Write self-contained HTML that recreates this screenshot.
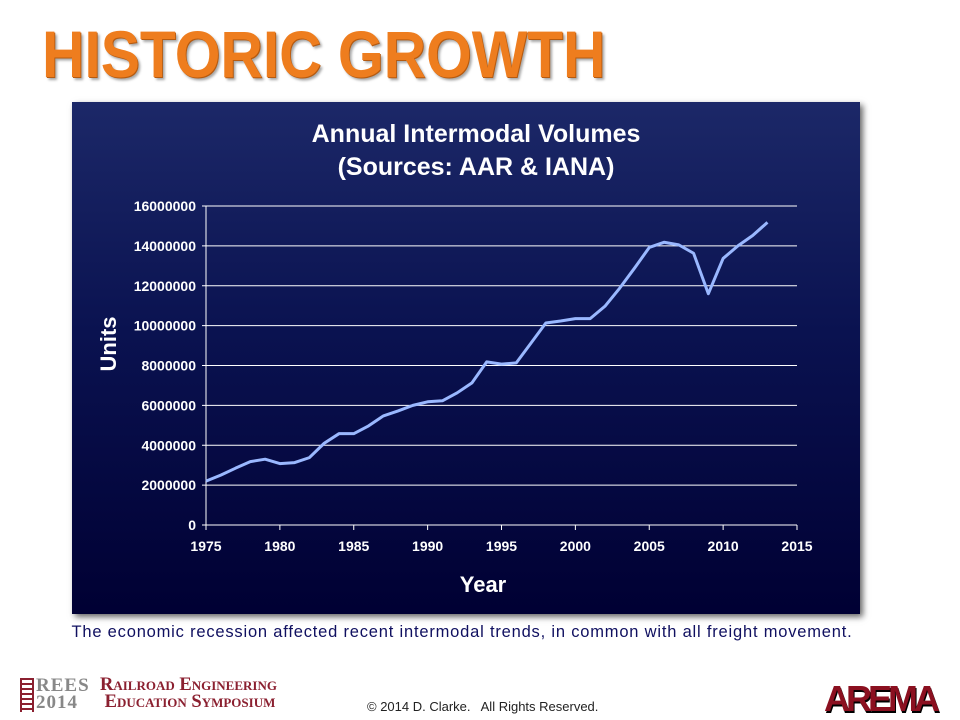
<!DOCTYPE html>
<html><head><meta charset="utf-8"><style>
body{margin:0;width:960px;height:720px;background:#fff;overflow:hidden;position:relative;font-family:"Liberation Sans",Arial,sans-serif}
.title{position:absolute;left:42px;top:19px;font-size:66px;line-height:70px;font-weight:bold;color:#ee7d1e;transform:scaleX(0.89);transform-origin:left;white-space:nowrap;text-shadow:1px 1px 0 #b55a10,3px 3px 3px rgba(0,0,0,.35)}
.panel{position:absolute;left:72px;top:102px;width:788px;height:512px;background:linear-gradient(#1c2868,#0a1250 45%,#000033);box-shadow:3px 3px 6px rgba(0,0,0,.6)}
.caption{position:absolute;left:0;width:924px;top:623px;text-align:center;font-size:16.5px;letter-spacing:0.8px;color:#101060;white-space:nowrap}
.copy{position:absolute;left:367px;top:699px;font-size:13px;color:#222}
</style></head><body>
<div class="title">HISTORIC GROWTH</div>
<div class="panel"></div>
<svg id="chart" width="960" height="720" style="position:absolute;left:0;top:0"></svg>
<div class="caption">The economic recession affected recent intermodal trends, in common with all freight movement.</div>
<div style="position:absolute;left:20px;top:678px;width:290px;height:34px">
<div style="position:absolute;left:0;top:0;width:14px;height:34px;background:repeating-linear-gradient(#8b2030 0 2px,transparent 2px 5px);border-left:2px solid #8b2030;border-right:2px solid #8b2030;box-sizing:border-box"></div>
<div style="position:absolute;left:16px;top:-1px;font:bold 19px 'Liberation Serif',serif;color:#888;line-height:17px;letter-spacing:1px">REES<br>2014</div>
<div style="position:absolute;left:80px;top:-1px;font:bold 18.5px 'Liberation Serif',serif;color:#8b2030;line-height:17px;font-variant:small-caps;white-space:nowrap">Railroad Engineering<br>&nbsp;Education Symposium</div>
</div>
<div class="copy">© 2014 D. Clarke. &nbsp; All Rights Reserved.</div>
<div style="position:absolute;left:824px;top:678px;font:bold 36px 'Liberation Sans',sans-serif;color:#8b1020;letter-spacing:-4px;text-shadow:1px 2px 0 #000">AREMA</div>
<script>
const years=[1975,1976,1977,1978,1979,1980,1981,1982,1983,1984,1985,1986,1987,1988,1989,1990,1991,1992,1993,1994,1995,1996,1997,1998,1999,2000,2001,2002,2003,2004,2005,2006,2007,2008,2009,2010,2011,2012,2013];
const volumes=[2200000,2500000,2850000,3180000,3300000,3080000,3130000,3380000,4100000,4580000,4580000,4970000,5470000,5720000,6000000,6180000,6230000,6630000,7130000,8180000,8070000,8130000,9130000,10130000,10230000,10350000,10350000,10970000,11880000,12880000,13920000,14180000,14050000,13630000,11600000,13370000,14000000,14520000,15180000];
const yTicks=[0,2000000,4000000,6000000,8000000,10000000,12000000,14000000,16000000];
const xTicks=[1975,1980,1985,1990,1995,2000,2005,2010,2015];
const svg=document.getElementById('chart');const NS='http://www.w3.org/2000/svg';
const X0=206,X1=797,Y0=525,Y1=206;
const xs=v=>X0+(v-1975)/(2015-1975)*(X1-X0);
const ys=v=>Y0-v/16000000*(Y0-Y1);
function el(t,a,txt){const e=document.createElementNS(NS,t);for(const k in a)e.setAttribute(k,a[k]);if(txt!=null)e.textContent=txt;svg.appendChild(e);return e;}
let t=el('text',{x:476,y:142,'text-anchor':'middle','font-size':25,'font-weight':'bold',fill:'#fff','font-family':'Liberation Sans'},'Annual Intermodal Volumes');

t=el('text',{x:476,y:175,'text-anchor':'middle','font-size':25,'font-weight':'bold',fill:'#fff','font-family':'Liberation Sans'},'(Sources: AAR & IANA)');

yTicks.forEach(v=>{const y=ys(v);
 const g=el('line',{x1:X0-4,x2:X1,y1:y,y2:y,stroke:'#fff','stroke-width':1});
 
 const l=el('text',{x:196,y:y+5,'text-anchor':'end','font-size':14,'font-weight':'bold',fill:'#fff','font-family':'Liberation Sans'},String(v));
 });
el('line',{x1:X0,x2:X0,y1:Y1,y2:Y0,stroke:'#fff','stroke-width':1});
xTicks.forEach(v=>{const x=xs(v);
 el('line',{x1:x,x2:x,y1:Y0,y2:Y0+5,stroke:'#fff','stroke-width':1});
 const l=el('text',{x:x,y:551,'text-anchor':'middle','font-size':14,'font-weight':'bold',fill:'#fff','font-family':'Liberation Sans'},String(v));
 });
const p=el('polyline',{points:years.map((y,i)=>xs(y)+','+ys(volumes[i])).join(' '),fill:'none',stroke:'#9ab8ff','stroke-width':3,'stroke-linejoin':'round'});

t=el('text',{x:483,y:592,'text-anchor':'middle','font-size':22,'font-weight':'bold',fill:'#fff','font-family':'Liberation Sans'},'Year');

t=el('text',{x:116,y:344,'text-anchor':'middle','font-size':22,'font-weight':'bold',fill:'#fff','font-family':'Liberation Sans',transform:'rotate(-90 116 344)'},'Units');

</script>
</body></html>
